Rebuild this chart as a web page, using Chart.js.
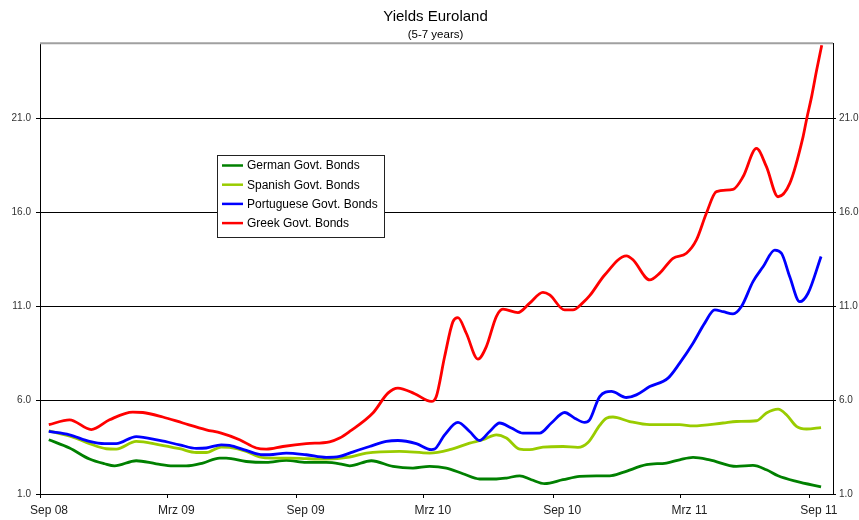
<!DOCTYPE html>
<html><head><meta charset="utf-8">
<script src="https://cdn.jsdelivr.net/npm/chart.js@4/dist/chart.umd.min.js"></script>
<style>html,body{margin:0;padding:0;background:#fff}#wrap{width:859px;height:520px}</style>
</head><body><div id="wrap"><canvas id="c" width="859" height="520"></canvas></div>
<script>
// x values: days since 1 Sep 2008
const tickDays = [0, 181, 365, 546, 730, 911, 1095];
const tickLabels = ['Sep 08', 'Mrz 09', 'Sep 09', 'Mrz 10', 'Sep 10', 'Mrz 11', 'Sep 11'];
const yTicks = [1, 6, 11, 16, 21];

const germanDays = [12.5, 42, 70.4, 91.8, 106, 136.9, 165.3, 189, 208, 231.6, 255.4, 264.9, 293.4, 321.9, 350.3, 378.8, 407.2, 426.2, 440.4, 471.3, 502, 530.5, 554.2, 578, 601.6, 625.4, 649.1, 663.4, 682.3, 698.9, 717.8, 743.9, 767.6, 791.4, 810.3, 829.2, 862.6, 891, 909.9, 928.9, 952.6, 990.6, 1014.2, 1033.3, 1049.8, 1076, 1111];
const germanYields = [3.89, 3.45, 2.86, 2.61, 2.50, 2.77, 2.61, 2.50, 2.50, 2.65, 2.91, 2.91, 2.73, 2.68, 2.79, 2.68, 2.68, 2.61, 2.50, 2.77, 2.47, 2.38, 2.47, 2.38, 2.08, 1.80, 1.80, 1.85, 1.97, 1.76, 1.55, 1.76, 1.94, 1.97, 1.97, 2.15, 2.56, 2.65, 2.82, 2.95, 2.82, 2.47, 2.52, 2.29, 1.97, 1.67, 1.38];

const spanishDays = [12.5, 46.7, 70.4, 94.2, 108.4, 136.9, 170, 198.5, 222.3, 236.5, 257.8, 269.6, 293.4, 312.3, 331.3, 355, 378.8, 407.2, 440.4, 464.2, 511.5, 554.2, 582.7, 611.1, 630.1, 649.1, 663.4, 682.3, 696.5, 715.4, 743.9, 765.2, 779.5, 796.1, 805.6, 815, 838.8, 867.3, 909.9, 928.9, 971.6, 990.6, 1019.1, 1033.3, 1049.8, 1061.8, 1076, 1090.3, 1111];
const spanishYields = [4.36, 4.03, 3.68, 3.41, 3.39, 3.80, 3.62, 3.41, 3.21, 3.21, 3.50, 3.48, 3.27, 2.97, 2.91, 2.91, 2.88, 2.86, 2.97, 3.18, 3.27, 3.18, 3.36, 3.71, 3.89, 4.15, 3.98, 3.39, 3.36, 3.50, 3.53, 3.48, 3.74, 4.65, 5.04, 5.10, 4.86, 4.69, 4.69, 4.63, 4.78, 4.86, 4.90, 5.31, 5.52, 5.22, 4.60, 4.46, 4.54];

const portugueseDays = [12.5, 42, 70.4, 91.8, 108.4, 136.9, 170, 198.5, 222.3, 236.5, 257.8, 269.6, 293.4, 317, 326.6, 350.3, 378.8, 407.2, 426.2, 440.4, 468.8, 492.6, 509.1, 535.3, 556.6, 561.3, 575.6, 594.5, 611.1, 625.4, 639.6, 653.8, 670.5, 687, 710.7, 727.4, 746.3, 760.5, 774.8, 781.9, 796.1, 812.7, 834.1, 848.3, 867.3, 893.3, 909.9, 928.9, 945.5, 959.8, 971.6, 985.8, 997.7, 1014.2, 1028.5, 1045.1, 1054.7, 1066.5, 1080.7, 1092.5, 1111];
const portugueseYields = [4.33, 4.15, 3.80, 3.68, 3.68, 4.06, 3.85, 3.62, 3.43, 3.45, 3.62, 3.59, 3.32, 3.09, 3.09, 3.18, 3.09, 2.95, 3.00, 3.18, 3.53, 3.80, 3.85, 3.68, 3.36, 3.39, 4.15, 4.81, 4.33, 3.85, 4.33, 4.78, 4.51, 4.24, 4.24, 4.78, 5.34, 5.04, 4.81, 4.95, 6.19, 6.46, 6.14, 6.28, 6.72, 7.17, 7.97, 9.03, 10.10, 10.80, 10.71, 10.59, 10.98, 12.31, 13.10, 13.99, 13.82, 12.57, 11.24, 11.69, 13.65];

const greekDays = [12.5, 42, 72.9, 98.9, 132, 146.3, 174.7, 203.2, 236.5, 257.8, 283.9, 307.6, 321.9, 345.5, 378.8, 411.9, 426.2, 440.4, 473.5, 494.9, 509.1, 532.9, 556.6, 563.7, 575.6, 587.4, 594.5, 606.4, 622.9, 634.9, 649.1, 658.5, 679.9, 696.5, 715.4, 725, 746.3, 758.1, 772.3, 781.9, 803.2, 834.1, 843.5, 867.3, 881.5, 900.4, 919.5, 933.7, 947.9, 962.2, 985.8, 1000, 1019.1, 1033.3, 1049.8, 1066.5, 1085.4, 1090.7, 1097.8, 1104.9, 1112];
const greekYields = [4.69, 4.95, 4.43, 4.95, 5.36, 5.34, 5.10, 4.78, 4.42, 4.24, 3.89, 3.45, 3.39, 3.53, 3.68, 3.78, 3.98, 4.33, 5.31, 6.37, 6.64, 6.34, 5.93, 6.19, 8.32, 10.18, 10.39, 9.56, 8.18, 8.85, 10.45, 10.84, 10.66, 11.16, 11.74, 11.60, 10.80, 10.80, 11.19, 11.56, 12.66, 13.68, 13.47, 12.40, 12.76, 13.55, 13.82, 14.53, 15.95, 17.10, 17.22, 17.89, 19.40, 18.43, 16.83, 17.54, 20.02, 21.0, 22.2, 23.6, 24.9];

function pts(days, vals) { return days.map((d, i) => ({ x: d, y: vals[i] })); }

const FONT = '"Liberation Sans", Arial, sans-serif';

const boxLegend = {
  id: 'boxLegend',
  afterDatasetsDraw(chart) {
    const ctx = chart.ctx;
    const x = 217.5, y = 155.5, w = 167, h = 82;
    ctx.save();
    ctx.fillStyle = '#fff';
    ctx.fillRect(x, y, w, h);
    ctx.strokeStyle = '#222';
    ctx.lineWidth = 1;
    ctx.strokeRect(x, y, w, h);
    ctx.font = '12px ' + FONT;
    ctx.textBaseline = 'middle';
    ctx.textAlign = 'left';
    chart.data.datasets.forEach((ds, i) => {
      const yy = 165.5 + i * 19.2;
      ctx.strokeStyle = ds.borderColor;
      ctx.lineWidth = 2.5;
      ctx.beginPath();
      ctx.moveTo(222, yy);
      ctx.lineTo(243, yy);
      ctx.stroke();
      ctx.fillStyle = '#000';
      ctx.fillText(ds.label, 247, yy + 0.5);
    });
    ctx.restore();
  }
};

const topBorder = {
  id: 'topBorder',
  afterDraw(chart) {
    const a = chart.chartArea, ctx = chart.ctx;
    ctx.save();
    ctx.strokeStyle = '#a0a0a0';
    ctx.lineWidth = 2;
    ctx.beginPath();
    ctx.moveTo(a.left, a.top);
    ctx.lineTo(a.right, a.top);
    ctx.stroke();
    ctx.restore();
  }
};

const lineStyle = { borderWidth: 2.8, pointRadius: 0, fill: false, cubicInterpolationMode: 'monotone' };

new Chart(document.getElementById('c'), {
  type: 'line',
  data: {
    datasets: [
      Object.assign({ label: 'German Govt. Bonds', data: pts(germanDays, germanYields), borderColor: '#008000', order: 4 }, lineStyle),
      Object.assign({ label: 'Spanish Govt. Bonds', data: pts(spanishDays, spanishYields), borderColor: '#99cc00', order: 3 }, lineStyle),
      Object.assign({ label: 'Portuguese Govt. Bonds', data: pts(portugueseDays, portugueseYields), borderColor: '#0000ff', order: 2 }, lineStyle),
      Object.assign({ label: 'Greek Govt. Bonds', data: pts(greekDays, greekYields), borderColor: '#ff0000', order: 1 }, lineStyle)
    ]
  },
  options: {
    responsive: false,
    animation: false,
    devicePixelRatio: 1,
    layout: { padding: { left: 12, right: 0, top: 0, bottom: 0 } },
    plugins: {
      legend: { display: false },
      tooltip: { enabled: false },
      title: { display: true, text: 'Yields Euroland', color: '#000', font: { family: FONT, size: 15, weight: 'normal' }, padding: { top: 8, bottom: 0 } },
      subtitle: { display: true, text: '(5-7 years)', color: '#000', font: { family: FONT, size: 11.5, weight: 'normal' }, padding: { top: 2, bottom: 1.5 } }
    },
    scales: {
      x: {
        type: 'linear', position: 'bottom', min: 0, max: 1128,
        afterBuildTicks: s => { s.ticks = tickDays.map(v => ({ value: v })); },
        afterFit: s => { s.height = 26; },
        ticks: { autoSkip: false, maxRotation: 0, minRotation: 0, padding: 5, labelOffset: 9, color: '#222', font: { family: FONT, size: 12 },
          callback: (v, i) => tickLabels[i] },
        grid: { drawOnChartArea: false, drawTicks: true, tickLength: 4, color: '#000' },
        border: { display: true, color: '#000', width: 1 }
      },
      y: {
        type: 'linear', position: 'left', min: 1, max: 25,
        afterBuildTicks: s => { s.ticks = yTicks.map(v => ({ value: v })); },
        afterFit: s => { s.width = 28; },
        ticks: { padding: 5, color: '#333', font: { family: FONT, size: 10 }, callback: v => Number(v).toFixed(1) },
        grid: { drawOnChartArea: true, drawTicks: true, tickLength: 4, color: '#000', lineWidth: 1 },
        border: { display: true, color: '#000', width: 1 }
      },
      y2: {
        type: 'linear', position: 'right', min: 1, max: 25,
        afterBuildTicks: s => { s.ticks = yTicks.map(v => ({ value: v })); },
        afterFit: s => { s.width = 26; },
        ticks: { padding: 3, color: '#333', font: { family: FONT, size: 10 }, callback: v => Number(v).toFixed(1) },
        grid: { drawOnChartArea: false, drawTicks: true, tickLength: 3, color: '#000' },
        border: { display: true, color: '#000', width: 1 }
      }
    }
  },
  plugins: [boxLegend, topBorder]
});
</script>
</body></html>
